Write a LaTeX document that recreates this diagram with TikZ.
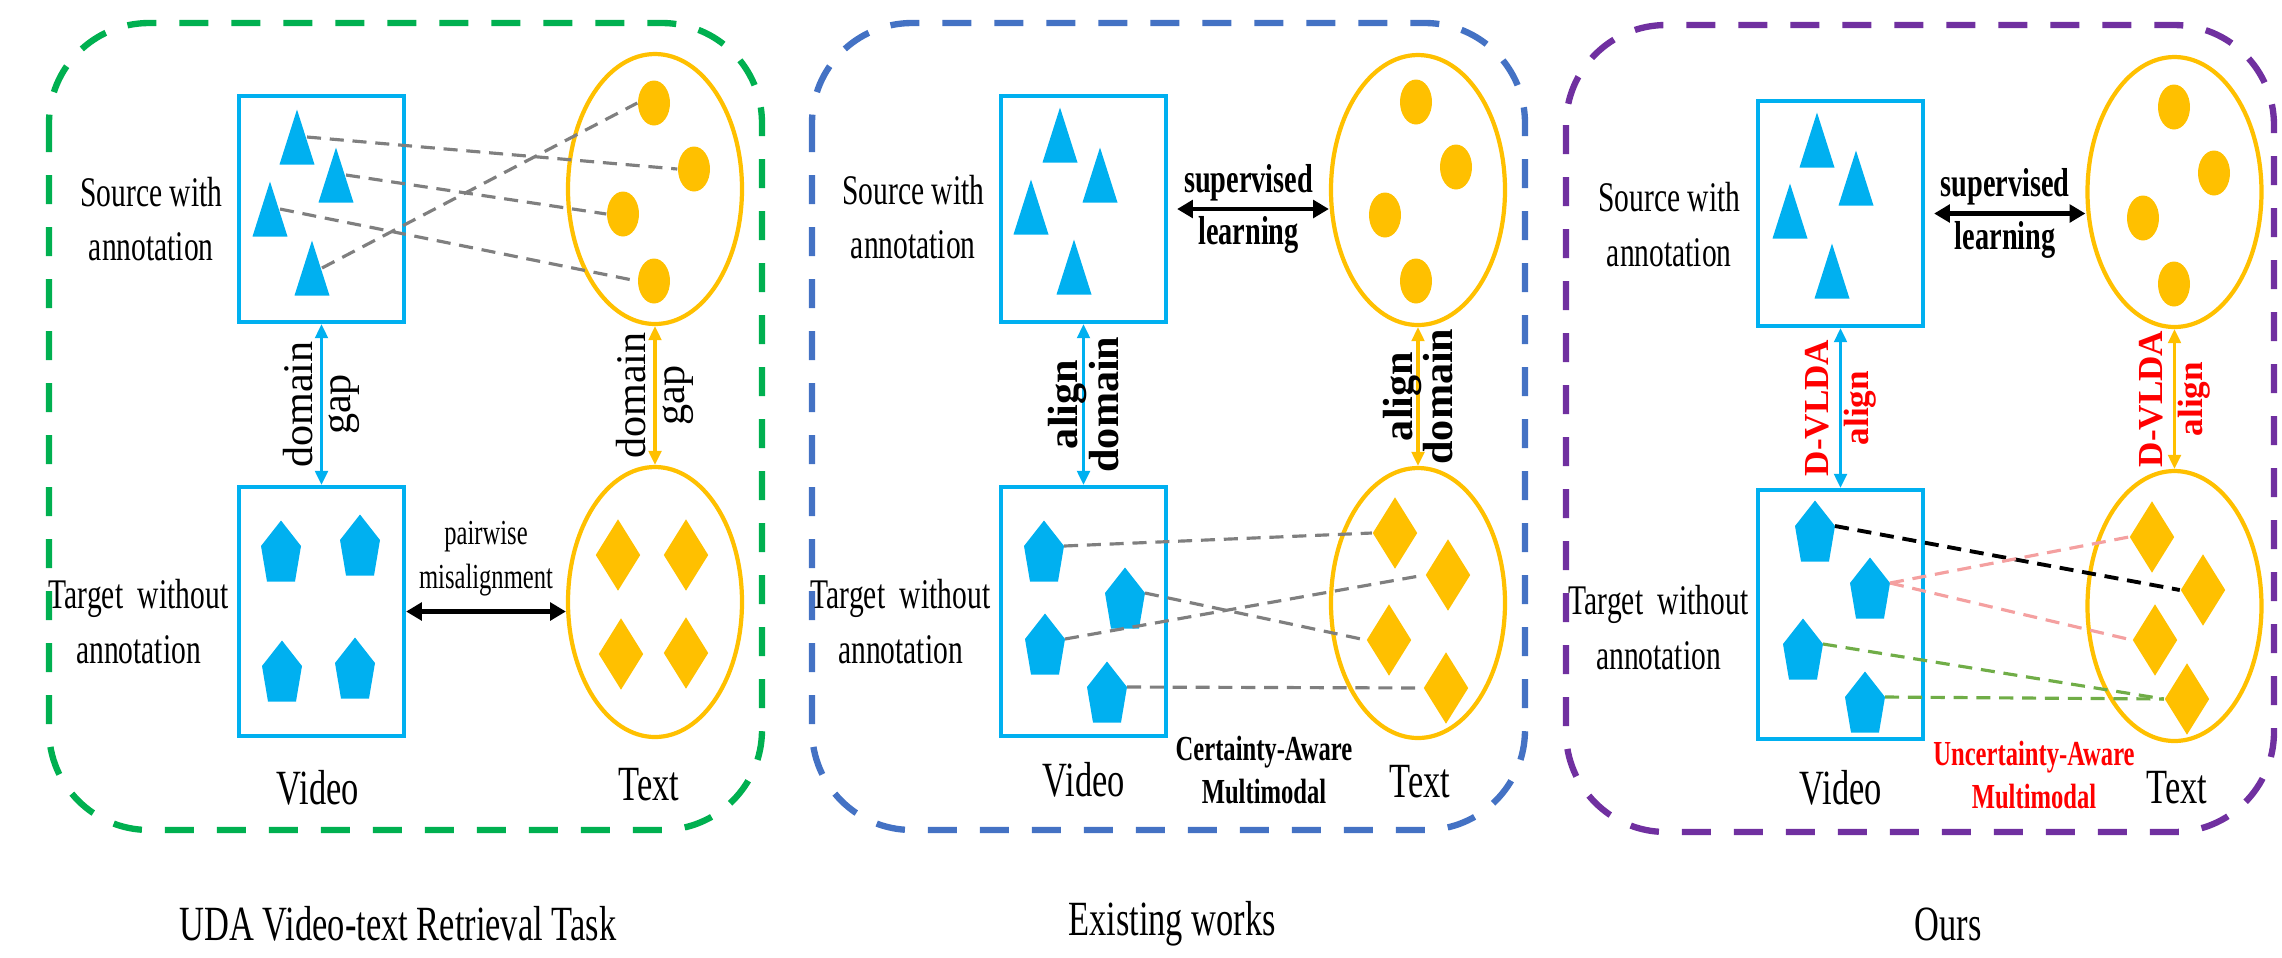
\documentclass[tikz,border=0pt]{standalone}
\usepackage{fontspec}
\setmainfont{Liberation Serif}[FakeStretch=0.7]
\newfontfamily\sidewaysfont{Liberation Serif}
\usetikzlibrary{shapes.geometric, arrows.meta, positioning}

\definecolor{vidblue}{HTML}{00B0F0}
\definecolor{txtgold}{HTML}{FFC000}
\definecolor{taskgreen}{HTML}{00B050}
\definecolor{worksblue}{HTML}{4472C4}
\definecolor{ourspurple}{HTML}{7030A0}
\definecolor{linkgray}{HTML}{7F7F7F}
\definecolor{linkpink}{HTML}{F4A0A0}
\definecolor{linkgreen}{HTML}{70AD47}
\definecolor{uared}{HTML}{FF0000}

\begin{document}
\begin{tikzpicture}[
    frame/.style={draw=#1, line width=1.8pt, dash pattern=on 0.29cm off 0.23cm, rounded corners=1cm},
    vidbox/.style={rectangle, draw=vidblue, line width=1.2pt, minimum width=1.65cm, minimum height=#1},
    txtset/.style={ellipse, draw=txtgold, line width=1.2pt, minimum width=1.74cm, minimum height=2.70cm},
    dot/.style={ellipse, fill=txtgold, inner sep=0pt, minimum width=0.32cm, minimum height=0.45cm},
    gem/.style={diamond, fill=txtgold, inner sep=0pt, minimum width=0.45cm, minimum height=0.72cm},
    vtri/.pic={\fill[vidblue] (0,0.275) -- (0.175,-0.275) -- (-0.175,-0.275) -- cycle;
        \coordinate (-r) at (0.1,0);},
    vpent/.pic={\fill[vidblue] (0,0.305) -- (0.2,0.05) -- (0.14,-0.305) -- (-0.14,-0.305) -- (-0.2,0.05) -- cycle;
        \coordinate (-r) at (0.2,0.05);},
    link/.style={draw=#1, line width=0.9pt, dash pattern=on 4pt off 2.5pt},
    link/.default=linkgray,
    gaparrow/.style={<->, >={Triangle[length=4pt,width=3.6pt]}, line width=0.9pt, draw=#1},
    pairarrow/.style={<->, >={Triangle[length=4.5pt,width=5pt]}, line width=1.2pt, draw=black},
    srclabel/.style={align=center, inner sep=0pt, font=\fontsize{12}{15.5}\selectfont},
    modal/.style={inner sep=0pt, font=\fontsize{14}{16}\selectfont},
    turned/.style={rotate=90, align=center, inner sep=1pt, font=\sidewaysfont\fontsize{12}{11}\selectfont},
    turnedbold/.style={rotate=90, align=center, inner sep=1pt, font=\sidewaysfont\bfseries\fontsize{#1}{11.5}\selectfont},
    boldnote/.style={align=center, inner sep=0pt, font=\bfseries\fontsize{#1}{12}\selectfont},
    arrownote/.style={align=center, inner sep=0pt, font=\bfseries\fontsize{11.5}{15}\selectfont},
    paneltitle/.style={font=\fontsize{14}{16}\selectfont}
]
\useasboundingbox (0,0) rectangle (22.82,-9.57);

% ---------------- UDA video-text retrieval task ----------------
\draw[frame=taskgreen] (0.49,-0.23) rectangle (7.62,-8.30);

\node[vidbox=2.26cm] (a-src) at (3.215,-2.09) {};
\node[vidbox=2.49cm] (a-tgt) at (3.215,-6.115) {};
\node[txtset] (a-top) at (6.55,-1.89) {};
\node[txtset] (a-bot) at (6.55,-6.02) {};

\pic (a-t1) at (2.97,-1.37) {vtri};
\pic (a-t2) at (3.36,-1.75) {vtri};
\pic (a-t3) at (2.70,-2.09) {vtri};
\pic (a-t4) at (3.12,-2.68) {vtri};
\node[dot] (a-c1) at (6.54,-1.03) {};
\node[dot] (a-c2) at (6.94,-1.69) {};
\node[dot] (a-c3) at (6.23,-2.14) {};
\node[dot] (a-c4) at (6.54,-2.81) {};

\pic (a-p1) at (2.81,-5.51) {vpent};
\pic (a-p2) at (3.60,-5.45) {vpent};
\pic (a-p3) at (2.82,-6.71) {vpent};
\pic (a-p4) at (3.55,-6.68) {vpent};
\node[gem] (a-d1) at (6.18,-5.55) {};
\node[gem] (a-d2) at (6.86,-5.55) {};
\node[gem] (a-d3) at (6.21,-6.54) {};
\node[gem] (a-d4) at (6.86,-6.53) {};

\node[srclabel, left=0.14cm of a-src, yshift=-0.1cm] (a-srctxt) {Source with\\annotation};
\node[srclabel, left=0.08cm of a-tgt, yshift=-0.1cm] (a-tgttxt) {Target\ \ without\\annotation};
\node[modal] (a-video) at (3.18,-7.88) {Video};
\node[modal] (a-text) at (6.49,-7.85) {Text};

\draw[link] (a-t1-r) -- (a-c2.west);
\draw[link] (a-t2-r) -- (a-c3.west);
\draw[link] (a-t3-r) -- (a-c4.west);
\draw[link] (a-t4-r) -- (a-c1.west);

\draw[gaparrow=vidblue] (a-src) -- (a-tgt) node[midway, turned] {domain\\gap};
\draw[gaparrow=txtgold] (a-top) -- (a-bot) node[midway, turned] {domain\\gap};
\draw[pairarrow] (a-tgt.east) -- (a-tgt.east -| a-bot.west)
    node[midway, above=0.5pt, align=center, font=\fontsize{10}{12.5}\selectfont] {pairwise\\misalignment};

% ---------------- existing works ----------------
\draw[frame=worksblue] (8.12,-0.23) rectangle (15.25,-8.30);

\node[vidbox=2.26cm] (b-src) at (10.835,-2.09) {};
\node[vidbox=2.49cm] (b-tgt) at (10.835,-6.115) {};
\node[txtset] (b-top) at (14.18,-1.90) {};
\node[txtset] (b-bot) at (14.18,-6.03) {};

\pic (b-t1) at (10.60,-1.35) {vtri};
\pic (b-t2) at (11.00,-1.75) {vtri};
\pic (b-t3) at (10.31,-2.07) {vtri};
\pic (b-t4) at (10.74,-2.67) {vtri};
\node[dot] (b-c1) at (14.16,-1.02) {};
\node[dot] (b-c2) at (14.56,-1.67) {};
\node[dot] (b-c3) at (13.85,-2.15) {};
\node[dot] (b-c4) at (14.16,-2.81) {};

\pic (b-p1) at (10.44,-5.51) {vpent};
\pic (b-p2) at (11.25,-5.98) {vpent};
\pic (b-p3) at (10.45,-6.44) {vpent};
\pic (b-p4) at (11.07,-6.92) {vpent};
\node[gem] (b-d1) at (13.95,-5.33) {};
\node[gem] (b-d2) at (14.48,-5.75) {};
\node[gem] (b-d3) at (13.89,-6.40) {};
\node[gem] (b-d4) at (14.46,-6.88) {};

\node[srclabel, left=0.14cm of b-src, yshift=-0.08cm] (b-srctxt) {Source with\\annotation};
\node[srclabel, left=0.08cm of b-tgt, yshift=-0.1cm] (b-tgttxt) {Target\ \ without\\annotation};
\node[modal] (b-video) at (10.84,-7.80) {Video};
\node[modal] (b-text) at (14.20,-7.82) {Text};
\node[boldnote=10] (b-note) at (12.64,-7.70) {Certainty-Aware\\Multimodal};

\draw[link] (b-p1-r) -- (b-d1.west);
\draw[link] (b-p2-r) -- (b-d3.west);
\draw[link] (b-p3-r) -- (b-d2.west);
\draw[link] (b-p4-r) -- (b-d4.west);

\draw[pairarrow, shorten <=0.09cm] (b-src.east) -- (b-src.east -| b-top.west)
    node[midway, arrownote] {supervised\\learning};
\draw[gaparrow=vidblue] (b-src) -- (b-tgt) node[midway, turnedbold=12] {align\\domain};
\draw[gaparrow=txtgold] (b-top) -- (b-bot) node[midway, turnedbold=12] {align\\domain};

% ---------------- ours ----------------
\draw[frame=ourspurple] (15.66,-0.25) rectangle (22.74,-8.32);

\node[vidbox=2.25cm] (c-src) at (18.405,-2.135) {};
\node[vidbox=2.49cm] (c-tgt) at (18.405,-6.145) {};
\node[txtset] (c-top) at (21.745,-1.92) {};
\node[txtset] (c-bot) at (21.745,-6.06) {};

\pic (c-t1) at (18.17,-1.40) {vtri};
\pic (c-t2) at (18.56,-1.78) {vtri};
\pic (c-t3) at (17.90,-2.11) {vtri};
\pic (c-t4) at (18.32,-2.71) {vtri};
\node[dot] (c-c1) at (21.74,-1.07) {};
\node[dot] (c-c2) at (22.14,-1.73) {};
\node[dot] (c-c3) at (21.43,-2.18) {};
\node[dot] (c-c4) at (21.74,-2.84) {};

\pic (c-p1) at (18.15,-5.31) {vpent};
\pic (c-p2) at (18.70,-5.88) {vpent};
\pic (c-p3) at (18.03,-6.49) {vpent};
\pic (c-p4) at (18.65,-7.02) {vpent};
\node[gem] (c-d1) at (21.52,-5.37) {};
\node[gem] (c-d2) at (22.03,-5.90) {};
\node[gem] (c-d3) at (21.55,-6.40) {};
\node[gem] (c-d4) at (21.87,-6.99) {};

\node[srclabel, left=0.15cm of c-src, yshift=-0.11cm] (c-srctxt) {Source with\\annotation};
\node[srclabel, left=0.07cm of c-tgt, yshift=-0.13cm] (c-tgttxt) {Target\ \ without\\annotation};
\node[modal] (c-video) at (18.41,-7.88) {Video};
\node[modal] (c-text) at (21.77,-7.88) {Text};
\node[boldnote=10, text=uared] (c-note) at (20.34,-7.75) {Uncertainty-Aware\\Multimodal};

\draw[link=black, line width=1.1pt] (c-p1-r) -- (c-d2.west);
\draw[link=linkpink] (c-p2-r) -- (c-d1.west);
\draw[link=linkpink] (c-p2-r) -- (c-d3.west);
\draw[link=linkgreen] (c-p3-r) -- (c-d4.west);
\draw[link=linkgreen] (c-p4-r) -- (c-d4.west);

\draw[pairarrow, shorten <=0.09cm] (c-src.east) -- (c-src.east -| c-top.west)
    node[midway, arrownote] {supervised\\learning};
\draw[gaparrow=vidblue] (c-src) -- (c-tgt) node[midway, turnedbold=10, text=uared] {D-VLDA\\align};
\draw[gaparrow=txtgold] (c-top) -- (c-bot) node[midway, turnedbold=10, text=uared] {D-VLDA\\align};

% panel captions
\node[paneltitle] (a-title) at (3.98,-9.24) {UDA Video-text Retrieval Task};
\node[paneltitle] (b-title) at (11.72,-9.24) {Existing works};
\node[paneltitle] (c-title) at (19.48,-9.24) {Ours};

\end{tikzpicture}
\end{document}
